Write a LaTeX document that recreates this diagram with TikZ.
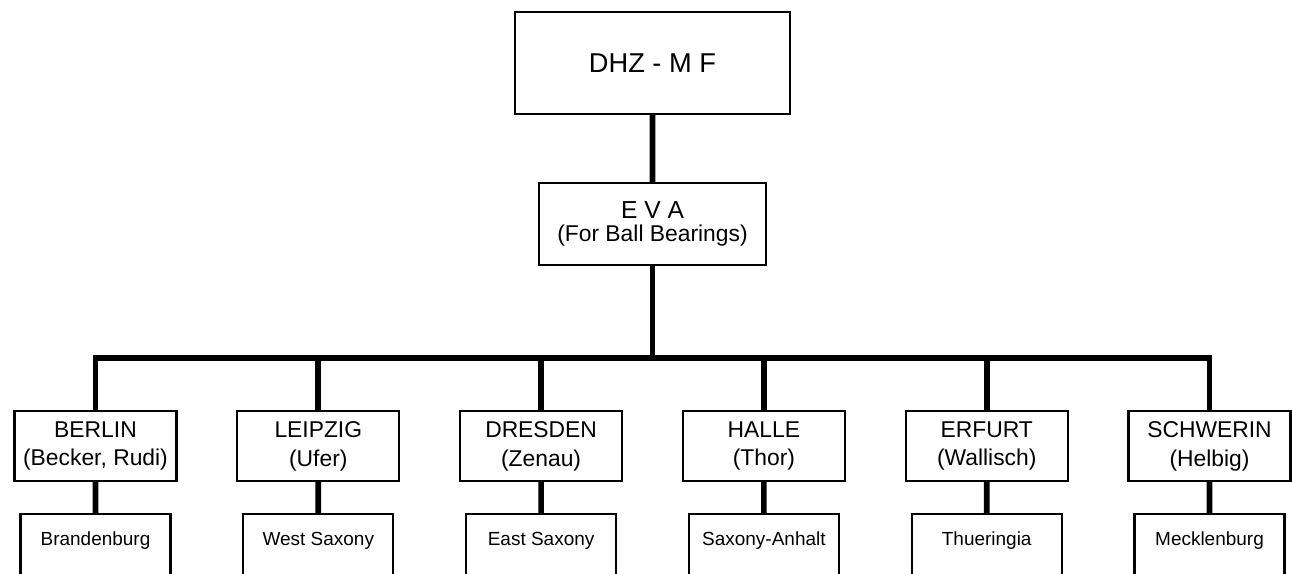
\documentclass[tikz,border=0pt]{standalone}
\usepackage{fontspec}
\setmainfont{Liberation Sans}

\begin{document}
\begin{tikzpicture}[
  level 1/.style={level distance=3.22cm},
  level 2/.style={level distance=4.44cm, sibling distance=4.456cm,
    edge from parent path={(\tikzparentnode.south) -- ++(0,-1.84cm) -| (\tikzchildnode.north)}},
  level 3/.style={level distance=1.34cm,
    edge from parent path={(\tikzparentnode.south) -- (\tikzchildnode.north)}},
  every node/.style={draw, line width=1.2pt, align=center, inner sep=0pt},
  edge from parent/.style={draw, line width=3.2pt},
  topbox/.style={minimum width=5.5cm, minimum height=2.04cm, font=\fontsize{15.5}{18}\selectfont},
  evabox/.style={minimum width=4.54cm, minimum height=1.64cm, font=\fontsize{13}{15}\selectfont},
  citybox/.style={minimum width=3.24cm, minimum height=1.4cm, font=\fontsize{13}{16.5}\selectfont},
  landbox/.style={anchor=north, minimum width=3cm, text height=0.3cm, text depth=1.6cm,
    inner ysep=0.32cm, font=\fontsize{10.8}{12}\selectfont}
]
\useasboundingbox (0,0) rectangle (25.84,-11.46);
\clip (0,0) rectangle (25.84,-11.46);
\node[topbox] (dhz) at (13.05,-1.26) {DHZ - M F}
  child { node[evabox] (eva) {\fontsize{14}{15}\selectfont E V A\\[-2pt]\fontsize{13}{15}\selectfont (For Ball Bearings)}
    child { node[citybox] (berlin) {BERLIN\\(Becker, Rudi)}
      child { node[landbox] (brandenburg) {Brandenburg} }
    }
    child { node[citybox] (leipzig) {LEIPZIG\\(Ufer)}
      child { node[landbox] (westsax) {West Saxony} }
    }
    child { node[citybox] (dresden) {DRESDEN\\(Zenau)}
      child { node[landbox] (eastsax) {East Saxony} }
    }
    child { node[citybox] (halle) {HALLE\\(Thor)}
      child { node[landbox] (anhalt) {Saxony-Anhalt} }
    }
    child { node[citybox] (erfurt) {ERFURT\\(Wallisch)}
      child { node[landbox] (thuer) {Thueringia} }
    }
    child { node[citybox] (schwerin) {SCHWERIN\\(Helbig)}
      child { node[landbox] (meckl) {Mecklenburg} }
    }
  };
\end{tikzpicture}
\end{document}
